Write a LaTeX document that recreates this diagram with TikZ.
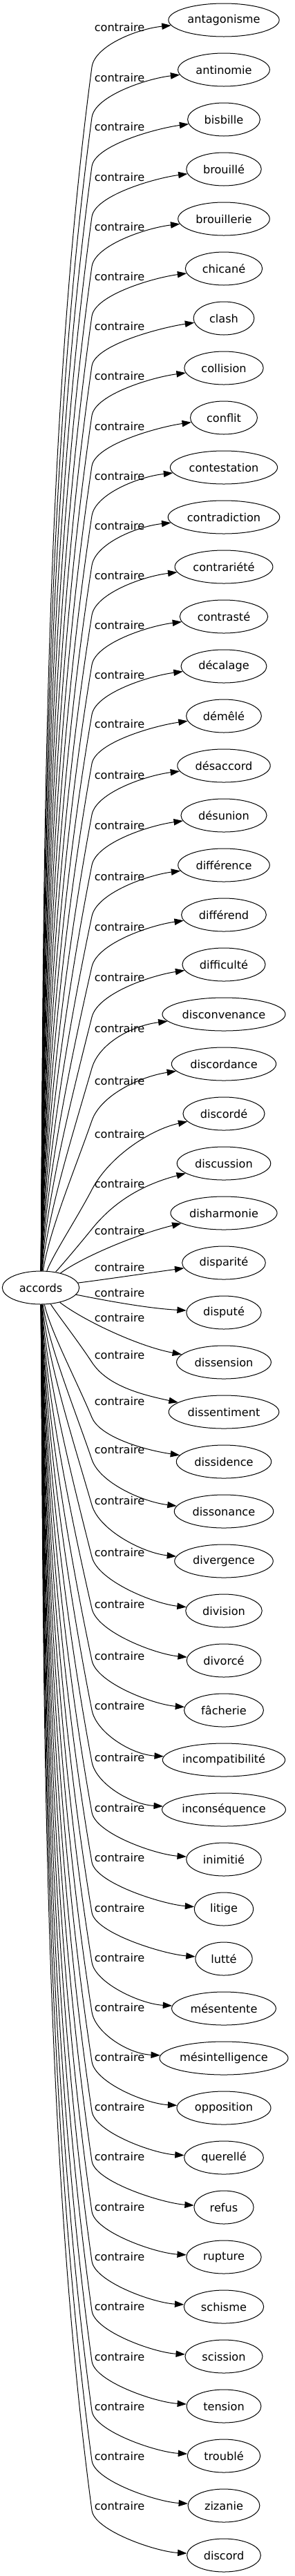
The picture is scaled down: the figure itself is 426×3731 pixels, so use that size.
\documentclass[tikz,border=0pt]{standalone}
\usepackage{fontspec}
\setmainfont{DejaVu Sans}
\usetikzlibrary{arrows.meta,shapes.geometric,calc}
\tikzset{
  word/.style={draw, ellipse, line width=0.75pt, inner sep=0pt, minimum height=36pt, font=\fontsize{12.1}{14}\selectfont},
  rel/.style={inner sep=0pt, font=\fontsize{12.1}{14}\selectfont},
  link/.style={line width=0.75pt, -{Triangle[length=10pt,width=7pt]}},
}
\begin{document}
\begin{tikzpicture}[x=0.75pt,y=-0.75pt]
  \useasboundingbox (0,0) rectangle (426,3731);
  \pgfmathsetmacro\ew{1.387*width("accords")+29.8}
  \node[word, minimum width=\ew pt] (accords) at (59,1865) {accords};
  \foreach \word [count=\i] in {antagonisme,antinomie,bisbille,brouillé,brouillerie,chicané,clash,collision,conflit,contestation,contradiction,contrariété,contrasté,décalage,démêlé,désaccord,désunion,différence,différend,difficulté,disconvenance,discordance,discordé,discussion,disharmonie,disparité,disputé,dissension,dissentiment,dissidence,dissonance,divergence,division,divorcé,fâcherie,incompatibilité,inconséquence,inimitié,litige,lutté,mésentente,mésintelligence,opposition,querellé,refus,rupture,schisme,scission,tension,troublé,zizanie,discord} {
    \pgfmathsetmacro\ew{1.387*width("\word")+29.8}
    \node[word, minimum width=\ew pt] (w\i) at (324,{29+72*(\i-1)}) {\word};
  }

  % edges going up
  \foreach \i/\ly/\by in {1/39/97,2/112/170,3/183/241,4/256/314,5/328/386,6/400/458,7/472/530,8/544/602,9/617/675,10/689/747,11/761/819,12/833/891,13/905/963,14/977/1035,15/1048/1106,16/1122/1180,17/1195/1253,18/1269/1327,19/1342/1400,20/1415/1473,21/1489/1547,22/1565/1623,23/1642/1723,24/1714/1780} {
    \pgfmathsetmacro\ty{29+72*(\i-1)}
    \pgfmathsetmacro\dist{1865-\by}
    \pgfmathsetmacro\rat{0.1+60/\dist}
    \node[rel] (c\i) at (173,\ly) {contraire};
    \draw[link] (accords) .. controls ({62+2000/\dist},{1865-0.33*\dist}) and ({133-\rat*0.3*\dist},{\by+0.3*\dist}) .. (133,\by)
      .. controls ({133+\rat*0.45*(\by-\ty)},{\by-0.45*(\by-\ty)}) and ($(w\i.west)+(-45,{12+1500/\dist})$) .. (w\i);
  }

  % edges next to accords
  \node[rel] (c25) at (173,1782) {contraire};
  \node[rel] (c26) at (173,1835) {contraire};
  \node[rel] (c27) at (173,1872) {contraire};
  \node[rel] (c28) at (173,1908) {contraire};
  \draw[link] (accords) .. controls (120,1820) and (200,1787) .. (w25);
  \draw[link] (accords) .. controls (160,1852) and (220,1843) .. (w26);
  \draw[link] (accords) .. controls (160,1885) and (215,1895) .. (w27);
  \draw[link] (accords) .. controls (120,1912) and (200,1950) .. (w28);

  % edges going down
  \foreach \i/\ly/\by in {29/1962/1973,30/2029/2053,31/2099/2114,32/2173/2180,33/2248/2255,34/2323/2330,35/2398/2405,36/2470/2477,37/2545/2552,38/2618/2625,39/2690/2697,40/2763/2770,41/2835/2842,42/2907/2914,43/2979/2986,44/3051/3058,45/3123/3130,46/3196/3203,47/3268/3275,48/3340/3347,49/3413/3420,50/3485/3492,51/3557/3564,52/3629/3636} {
    \pgfmathsetmacro\ty{29+72*(\i-1)}
    \pgfmathsetmacro\dist{\by-1865}
    \pgfmathsetmacro\rat{0.1+60/\dist}
    \node[rel] (c\i) at (173,\ly) {contraire};
    \draw[link] (accords) .. controls ({62+2000/\dist},{1865+0.33*\dist}) and ({133-\rat*0.3*\dist},{\by-0.3*\dist}) .. (133,\by)
      .. controls ({133+\rat*0.45*(\ty-\by)},{\by+0.45*(\ty-\by)}) and ($(w\i.west)+(-45,{-4-2400/\dist})$) .. (w\i);
  }
\end{tikzpicture}
\end{document}
